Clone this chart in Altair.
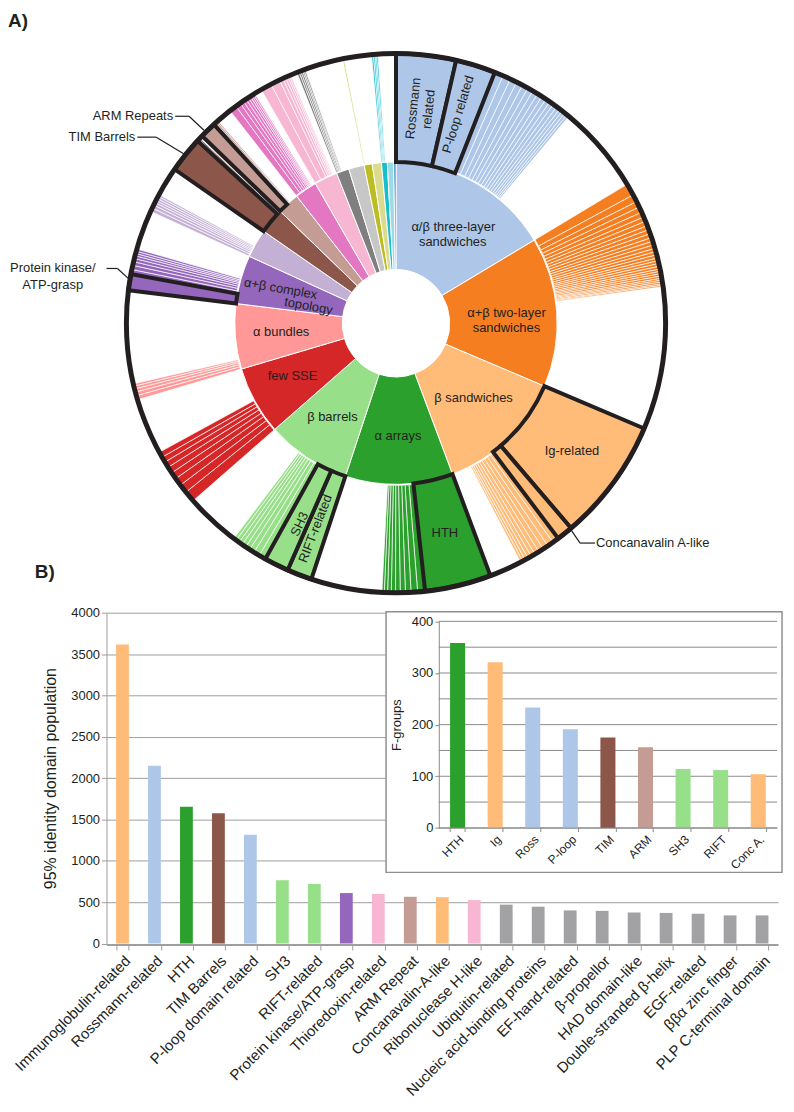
import altair as alt
import pandas as pd

FONT = "Liberation Sans"
INK = "#231f20"
GRID = "#9d9d9d"

# ======================= DATA =======================
# Panel A - inner ring: architectures (share of the ring, in degrees)
arch_names = ["α/β three-layer sandwiches", "α+β two-layer sandwiches", "β sandwiches",
              "α arrays", "β barrels", "few SSE", "α bundles", "α+β complex topology",
              "arch 9", "arch 10", "arch 11", "arch 12", "arch 13", "arch 14", "arch 15",
              "arch 16", "arch 17", "arch 18", "arch 19", "arch 20"]
arch_share = [59.0, 54.0, 46.5, 38.8, 30.5, 24.7, 23.5, 17.5, 10.3, 9.2,
              8.0, 8.0, 8.4, 4.6, 5.6, 2.9, 3.3, 2.1, 2.3, 0.8]
arch_colors = ["#aec7e8", "#f47e20", "#ffbb78", "#2ca02c", "#98df8a", "#d62728",
               "#ff9896", "#9467bd", "#c5b0d5", "#8c564b", "#c49c94", "#e377c2",
               "#f7b6d2", "#7f7f7f", "#c7c7c7", "#bcbd22", "#dbdb8d", "#17becf",
               "#9edae5", "#1f77b4"]

# Panel A - outer ring: highlighted topologies (name, architecture index, degrees)
named_topo_names = ["Rossmann related", "P-loop related", "Ig-related", "Concanavalin A-like",
                    "HTH", "RIFT-related", "SH3", "Protein kinase/ATP-grasp",
                    "TIM Barrels", "ARM Repeats"]
named_topo_arch = [0, 0, 2, 2, 3, 4, 4, 7, 9, 10]
named_topo_share = [12.9, 8.6, 26.5, 3.5, 14.3, 5.4, 5.3, 3.5, 7.8, 3.5]

# Panel A - outer ring: the remaining (thin) topologies of each architecture, degrees
minor_topos = [
    [1.9, 1.7, 1.5, 1.4, 1.3, 1.2, 1.2, 1.1, 1.0, 1.0, 0.9, 0.9, 0.8, 0.7, 0.7, 0.6, 0.5],
    [2.6, 1.6, 1.3, 1.2, 1.1, 1.0, 1.0, 0.9, 0.9, 0.9, 0.8, 0.8, 0.8, 0.7, 0.7, 0.7,
     0.6, 0.6, 0.6, 0.6, 0.5, 0.5, 0.5, 0.5, 0.4, 0.4, 0.4, 0.3, 0.3],
    [1.4, 1.3, 1.2, 1.1, 1.0, 0.9, 0.8, 0.7, 0.6, 0.5],
    [1.6, 1.4, 1.2, 1.1, 1.0, 0.9, 0.8, 0.7, 0.5],
    [1.5, 1.3, 1.1, 1.0, 0.9, 0.8, 0.8, 0.6],
    [2.4, 1.9, 1.7, 1.5, 1.4, 1.3, 1.2, 1.2],
    [0.9, 0.8, 0.7, 0.6, 0.5],
    [1.0, 0.9, 0.8, 0.7, 0.6, 0.5, 0.5, 0.5],
    [0.8, 0.7, 0.6, 0.5, 0.5, 0.5, 0.4],
    [0.4, 0.3],
    [0.5, 0.4, 0.3],
    [1.6, 1.1, 0.8, 0.7, 0.6, 0.5, 0.4, 0.4, 0.3],
    [2.4, 2.0, 0.8, 0.6, 0.5, 0.4, 0.3],
    [0.5, 0.4, 0.4, 0.3, 0.3],
    [],
    [0.25],
    [],
    [0.4, 0.35, 0.3, 0.3],
    [],
    [],
]

# Panel B - main bars: 95% identity domain population
pop_names = ["Immunoglobulin-related", "Rossmann-related", "HTH", "TIM Barrels",
             "P-loop domain related", "SH3", "RIFT-related", "Protein kinase/ATP-grasp",
             "Thioredoxin-related", "ARM Repeat", "Concanavalin-A-like", "Ribonuclease H-like",
             "Ubiquitin-related", "Nucleic acid-binding proteins", "EF-hand-related",
             "β-propellor", "HAD domain-like", "Double-stranded β-helix", "EGF-related",
             "ββα zinc finger", "PLP C-terminal domain"]
pop_values = [3615, 2150, 1655, 1575, 1315, 765, 720, 610, 600, 565, 560, 525,
              470, 445, 400, 395, 375, 370, 360, 340, 340]
pop_colors = ["#ffbb78", "#aec7e8", "#2ca02c", "#8c564b", "#aec7e8", "#98df8a", "#98df8a",
              "#9467bd", "#f7b6d2", "#c49c94", "#ffbb78", "#f7b6d2"] + ["#a2a2a5"] * 9

# Panel B - inset: F-groups
fg_names = ["HTH", "Ig", "Ross", "P-loop", "TIM", "ARM", "SH3", "RIFT", "Conc A."]
fg_values = [358, 321, 233, 191, 175, 156, 114, 112, 104]
fg_colors = ["#2ca02c", "#ffbb78", "#aec7e8", "#aec7e8", "#8c564b", "#c49c94",
             "#98df8a", "#98df8a", "#ffbb78"]
fg_grid_values = [0, 50, 100, 150, 200, 250, 300, 350, 400]

# Donut label texts
inner_label_text = ["α/β three-layer", "sandwiches", "α+β two-layer", "sandwiches",
                    "β sandwiches", "α arrays", "β barrels", "few SSE", "α bundles",
                    "α+β complex", "topology"]
box_label_text = ["Rossmann", "related", "P-loop related", "Ig-related", "HTH", "SH3",
                  "RIFT-related"]

# ======================= LAYOUT =======================
W, H = 782, 1096
CX, CY = 390, 314
R_HOLE, R_MID, R_OUT = 54, 162, 271

inner_label_theta = [30.7, 34.8, 84.7, 92.4, 133.8, 179.0, 214.0, 243.0, 265.7, 286.6, 281.0]
inner_label_r = [112.8, 99.9, 111.5, 111.1, 108.0, 113.0, 114.3, 116.7, 115.8, 121.0, 89.6]
inner_label_rot = [0, 0, 0, 0, 0, 0, 0, 0, 0, 10, 10]
box_label_theta = [4.6, 8.7, 16.6, 125.9, 166.9, 205.6, 201.4]
box_label_r = [216.7, 217.5, 219.0, 218.4, 216.6, 224.0, 221.7]
box_label_rot = [276, 276, 287, 0, 0, 295, 291]

# ======================= BUILD TABLES =======================
inner_rows, minor_rows, named_rows = [], [], []
start = 0.0
for i, (nm, sh, col) in enumerate(zip(arch_names, arch_share, arch_colors)):
    inner_rows.append(dict(name=nm, t0=start, t1=start + sh, color=col))
    pos = start
    for tn, ai, sz in zip(named_topo_names, named_topo_arch, named_topo_share):
        if ai == i:
            named_rows.append(dict(name=tn, t0=pos, t1=pos + sz, color=col))
            pos += sz
    for sz in minor_topos[i]:
        minor_rows.append(dict(t0=pos, t1=pos + sz, color=col))
        pos += sz
    start += sh

inner_df = pd.DataFrame(inner_rows)
minor_df = pd.DataFrame(minor_rows)
named_df = pd.DataFrame(named_rows)
circle_df = pd.DataFrame(dict(t0=[0.0], t1=[360.0]))

theta_scale = alt.Scale(domain=[0, 360], range=[0, 6.283185307179586])


def ring(df, r_in, r_out, stroke, sw):
    return alt.Chart(df).mark_arc(radius=r_out, radius2=r_in, stroke=stroke,
                                  strokeWidth=sw, strokeJoin="miter").encode(
        theta=alt.Theta("t0:Q", scale=theta_scale, stack=None),
        theta2=alt.Theta2("t1:Q"),
        color=alt.Color("color:N", scale=None),
        x=alt.value(CX), y=alt.value(CY))


inner_ring = ring(inner_df, R_HOLE, R_MID, "white", 1)
minor_ring = ring(minor_df, R_MID + 1, R_OUT, "white", 0.7)
named_ring = ring(named_df, R_MID, R_OUT, INK, 4)
outer_circle = alt.Chart(circle_df).mark_arc(radius=R_OUT, fillOpacity=0, stroke=INK,
                                             strokeWidth=5).encode(
    theta=alt.Theta("t0:Q", scale=theta_scale, stack=None),
    theta2=alt.Theta2("t1:Q"),
    x=alt.value(CX), y=alt.value(CY))

lab_df = pd.DataFrame(dict(
    text=inner_label_text + box_label_text,
    t=inner_label_theta + box_label_theta,
    r=inner_label_r + box_label_r,
    rot=inner_label_rot + box_label_rot))
donut_labels = alt.Chart(lab_df).mark_text(font=FONT, fontSize=13, color=INK,
                                           align="center", baseline="middle").encode(
    theta=alt.Theta("t:Q", scale=theta_scale, stack=None),
    radius=alt.Radius("r:Q", scale=None),
    angle=alt.Angle("rot:Q", scale=None),
    text="text:N",
    x=alt.value(CX), y=alt.value(CY))

# callouts (annotation text + leader lines), chart pixel coordinates
callout_right = pd.DataFrame(dict(text=["ARM Repeats", "TIM Barrels"],
                                  x=[166, 128], y=[106, 127]))
callout_center = pd.DataFrame(dict(text=["Protein kinase/", "ATP-grasp"],
                                   x=[45, 45], y=[259, 276]))
callout_left = pd.DataFrame(dict(text=["Concanavalin A-like"], x=[591], y=[535]))
leaders = pd.DataFrame(dict(
    x=[168, 182, 130, 149, 99, 110, 564, 575],
    y=[106, 106, 127, 127, 259, 259, 519, 535],
    x2=[182, 197, 149, 177, 110, 122, 575, 590],
    y2=[106, 120, 127, 144, 259, 270, 535, 535]))


def text_layer(df, align, size=13, weight="normal"):
    return alt.Chart(df).mark_text(font=FONT, fontSize=size, fontWeight=weight, color=INK,
                                   align=align, baseline="middle").encode(
        x=alt.X("x:Q", scale=None, axis=None),
        y=alt.Y("y:Q", scale=None, axis=None),
        text="text:N")


leader_layer = alt.Chart(leaders).mark_rule(color=INK, strokeWidth=1.2).encode(
    x=alt.X("x:Q", scale=None, axis=None), y=alt.Y("y:Q", scale=None, axis=None),
    x2="x2:Q", y2="y2:Q")

panel_tags = pd.DataFrame(dict(text=["A)", "B)"], x=[0, 27], y=[10, 564]))

# ---------------- Panel B: main bars ----------------
main_df = pd.DataFrame(dict(name=pop_names, value=pop_values, color=pop_colors))
main_bars = alt.Chart(main_df).mark_bar().encode(
    x=alt.X("name:N", sort=None,
            scale=alt.Scale(range=[99, 774], paddingInner=0.6, paddingOuter=0.3),
            axis=alt.Axis(orient="bottom", offset=-157, title=None, labelAngle=-45,
                          labelFont=FONT, labelFontSize=15, labelColor=INK, labelLimit=400,
                          labelOverlap=False, labelPadding=3, domainColor=GRID,
                          tickColor=GRID, tickBand="extent", tickSize=5, grid=False)),
    y=alt.Y("value:Q",
            scale=alt.Scale(domain=[0, 4000], range=[937.5, 605], nice=False),
            axis=alt.Axis(orient="left", offset=-99, values=list(range(0, 4001, 500)),
                          format="d", title="95% identity domain population",
                          titleFont=FONT, titleFontSize=16, titleFontWeight="normal",
                          titleColor=INK, titlePadding=12, labelFont=FONT, labelFontSize=13,
                          labelColor=INK, grid=True, gridColor=GRID, domainColor=GRID,
                          tickColor=GRID, tickSize=5)),
    color=alt.Color("color:N", scale=None))

# ---------------- Panel B: inset ----------------
inset_box = alt.Chart(pd.DataFrame(dict(k=[0]))).mark_rect(
    fill="white", stroke="#8f8f8f", strokeWidth=1.5).encode(
    x=alt.value(380), x2=alt.value(778), y=alt.value(604), y2=alt.value(866))

inset_y = alt.Scale(domain=[0, 400], range=[821.3, 613.7], nice=False)
inset_y_axis = alt.Axis(orient="left", offset=-433, zindex=1, values=[0, 100, 200, 300, 400],
                        grid=False, title="F-groups", titleFont=FONT, titleFontSize=13,
                        titleFontWeight="normal", titleColor=INK, titlePadding=8,
                        labelFont=FONT, labelFontSize=13, labelColor=INK,
                        domainColor="#8a8a8a", tickColor="#8a8a8a", tickSize=4)
inset_grid = alt.Chart(pd.DataFrame(dict(fg=fg_grid_values))).mark_rule(
    color="#8a8a8a", strokeWidth=1).encode(
    y=alt.Y("fg:Q", scale=inset_y, axis=inset_y_axis),
    x=alt.value(433), x2=alt.value(773))
fg_df = pd.DataFrame(dict(abbr=fg_names, fg=fg_values, color=fg_colors))
inset_bars = alt.Chart(fg_df).mark_bar().encode(
    x=alt.X("abbr:N", sort=None,
            scale=alt.Scale(range=[433, 773], paddingInner=0.6, paddingOuter=0.3),
            axis=alt.Axis(orient="bottom", offset=-275, zindex=1, title=None, labelAngle=-45,
                          labelFont=FONT, labelFontSize=12, labelColor=INK,
                          labelOverlap=False, labelPadding=2, domainColor="#8a8a8a",
                          tickColor="#8a8a8a", tickBand="extent", tickSize=4, grid=False)),
    y=alt.Y("fg:Q", scale=inset_y, axis=inset_y_axis),
    color=alt.Color("color:N", scale=None))
inset = alt.layer(inset_grid, inset_bars)

chart = alt.layer(
    inner_ring, minor_ring, named_ring, outer_circle, donut_labels,
    leader_layer, text_layer(callout_right, "right"), text_layer(callout_center, "center"),
    text_layer(callout_left, "left"), text_layer(panel_tags, "left", 19, "bold"),
    main_bars, inset_box, inset,
).resolve_scale(x="independent", y="independent").properties(
    width=W, height=H, autosize=alt.AutoSizeParams(type="none"), padding=0
).configure_view(stroke="transparent")

chart.save("out.html", embed_options={"renderer": "svg", "actions": False})
